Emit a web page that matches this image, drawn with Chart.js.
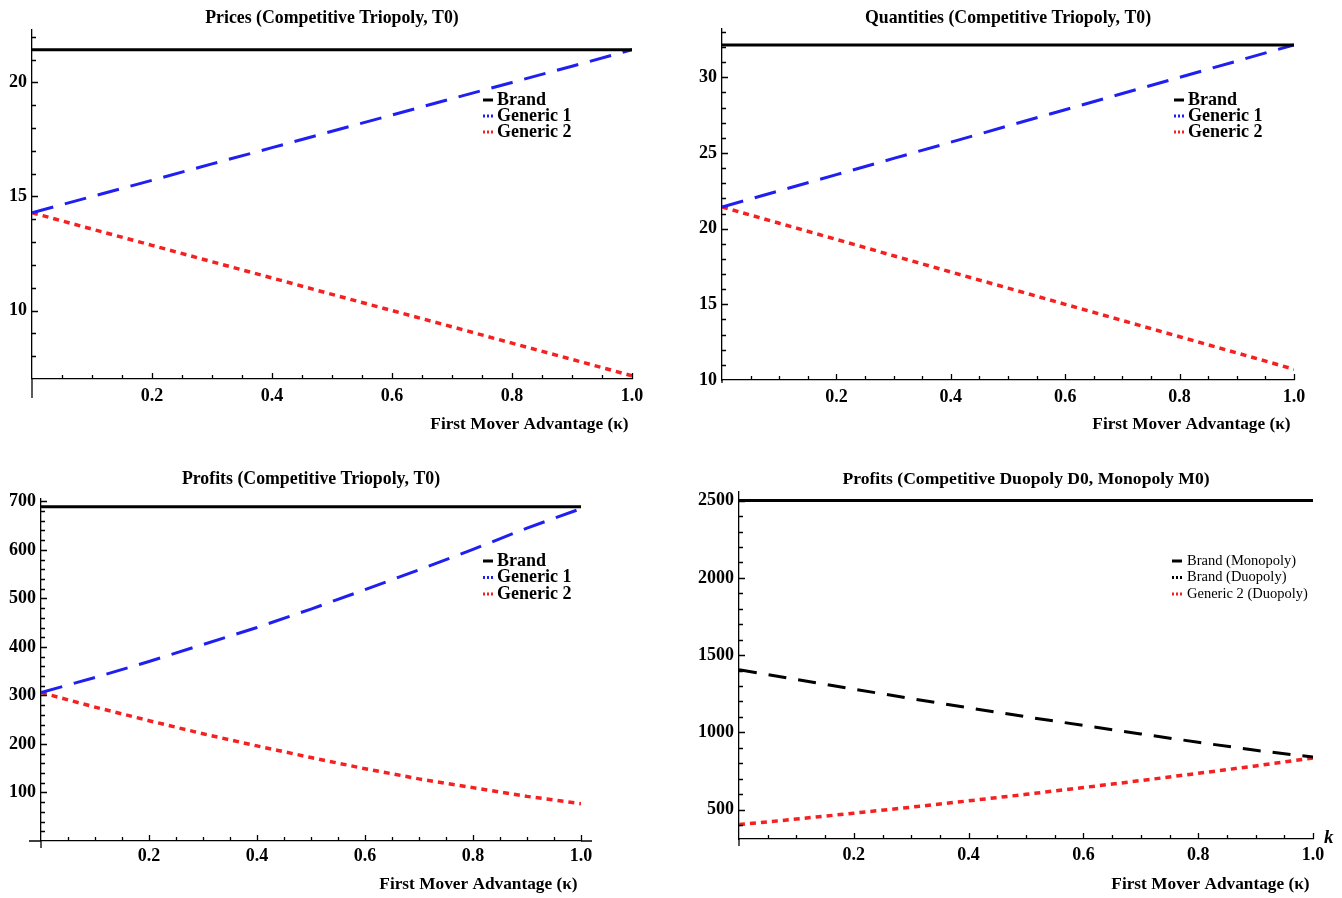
<!DOCTYPE html>
<html><head><meta charset="utf-8">
<script src="https://cdn.jsdelivr.net/npm/chart.js@4.4.0/dist/chart.umd.min.js"></script>
<style>
html,body{margin:0;padding:0;background:#fff;}
#wrap{position:relative;width:1342px;height:898px;background:#fff;}
canvas{position:absolute;}
</style></head><body>
<div id="wrap">
<canvas id="c1" width="671" height="449" style="left:0;top:0"></canvas>
<canvas id="c2" width="671" height="449" style="left:671px;top:0"></canvas>
<canvas id="c3" width="671" height="449" style="left:0;top:449px"></canvas>
<canvas id="c4" width="671" height="449" style="left:671px;top:449px"></canvas>
</div>
<script>
// ---- data ----
const kValues = [0, 0.1, 0.2, 0.3, 0.4, 0.5, 0.6, 0.7, 0.8, 0.9, 1.0];
const xTickValues = [0.2, 0.4, 0.6, 0.8, 1.0];

const priceBrand    = [21.43, 21.43, 21.43, 21.43, 21.43, 21.43, 21.43, 21.43, 21.43, 21.43, 21.43];
const priceGeneric1 = [14.29, 15.00, 15.71, 16.43, 17.14, 17.86, 18.57, 19.29, 20.00, 20.71, 21.43];
const priceGeneric2 = [14.29, 13.57, 12.86, 12.14, 11.43, 10.71, 10.00, 9.29, 8.57, 7.86, 7.14];
const priceYTicks = [10, 15, 20];

const qtyBrand    = [32.14, 32.14, 32.14, 32.14, 32.14, 32.14, 32.14, 32.14, 32.14, 32.14, 32.14];
const qtyGeneric1 = [21.43, 22.50, 23.57, 24.64, 25.71, 26.79, 27.86, 28.93, 30.00, 31.07, 32.14];
const qtyGeneric2 = [21.43, 20.36, 19.29, 18.21, 17.14, 16.07, 15.00, 13.93, 12.86, 11.79, 10.71];
const qtyYTicks = [10, 15, 20, 25, 30];

const profitBrand    = [689, 689, 689, 689, 689, 689, 689, 689, 689, 689, 689];
const profitGeneric1 = [306, 337, 370, 405, 440, 478, 518, 559, 601, 645, 685];
const profitGeneric2 = [306, 276, 248, 221, 196, 172, 149, 128, 110, 92, 77];
const profitYTicks = [100, 200, 300, 400, 500, 600, 700];

const monoBrand   = [2500, 2500, 2500, 2500, 2500, 2500, 2500, 2500, 2500, 2500, 2500];
const duoBrand    = [1406, 1342, 1280, 1219, 1159, 1101, 1045, 990, 936, 884, 840];
const duoGeneric2 = [403, 439, 477, 516, 557, 599, 643, 688, 735, 783, 834];
const duoYTicks = [500, 1000, 1500, 2000, 2500];

const titles = [
  'Prices (Competitive Triopoly, T0)',
  'Quantities (Competitive Triopoly, T0)',
  'Profits (Competitive Triopoly, T0)',
  'Profits (Competitive Duopoly D0, Monopoly M0)'
];
const xAxisTitle = 'First Mover Advantage (\u03BA)\u202F';
const triLabels = ['Brand', 'Generic 1', 'Generic 2'];
const duoLabels = ['Brand (Monopoly)', 'Brand (Duopoly)', 'Generic 2 (Duopoly)'];

// ---- styles ----
const SERIF = '"Liberation Serif", "Times New Roman", serif';
const BLACK = '#000000', BLUE = '#1f1ff2', RED = '#f52020';

function ds(label, values, color, dash, width, legendDash) {
  return {
    label, data: kValues.map((k, i) => ({x: k, y: values[i]})),
    borderColor: color, backgroundColor: color, borderWidth: width,
    borderDash: dash, pointRadius: 0, fill: false, tension: 0,
    legendDash: legendDash, borderCapStyle: 'butt'
  };
}

const mathAxes = {
  id: 'mathAxes',
  afterDatasetsDraw(chart, args, o) {
    const ctx = chart.ctx, ca = chart.chartArea;
    const xs = chart.scales.x, ys = chart.scales.y;
    ctx.save();
    ctx.strokeStyle = '#000'; ctx.lineWidth = 1.3;
    ctx.beginPath();
    if (o.yExtBelow) { ctx.moveTo(ca.left, ca.bottom); ctx.lineTo(ca.left, ca.bottom + o.yExtBelow); }
    if (o.xExtLeft) { ctx.moveTo(ca.left - o.xExtLeft, ca.bottom); ctx.lineTo(ca.left, ca.bottom); }
    if (o.xExtRight) { ctx.moveTo(ca.right, ca.bottom); ctx.lineTo(ca.right + o.xExtRight, ca.bottom); }
    ctx.stroke();
    ctx.beginPath();
    const xMaj = xs.ticks.map(t => t.value);
    for (let v = o.xMinor; v <= xs.max + 1e-9; v += o.xMinor) {
      const isMaj = xMaj.some(m => Math.abs(m - v) < 1e-6);
      const px = Math.round(xs.getPixelForValue(v)) + 0.5;
      ctx.moveTo(px, ca.bottom); ctx.lineTo(px, ca.bottom - (isMaj ? 6 : 4));
    }
    const yMaj = ys.ticks.map(t => t.value);
    const start = Math.ceil(ys.min / o.yMinor) * o.yMinor;
    for (let v = start; v <= ys.max + 1e-9; v += o.yMinor) {
      if (Math.abs(v - ys.min) < 1e-6) continue;
      const isMaj = yMaj.some(m => Math.abs(m - v) < 1e-6);
      const py = Math.round(ys.getPixelForValue(v)) + 0.5;
      ctx.moveTo(ca.left, py); ctx.lineTo(ca.left + (isMaj ? 6 : 4), py);
    }
    ctx.stroke();
    const L = o.legend;
    ctx.textAlign = 'left'; ctx.textBaseline = 'middle';
    ctx.font = L.font;
    chart.data.datasets.forEach((d, i) => {
      const y = L.y + i * L.dy;
      ctx.beginPath();
      ctx.strokeStyle = d.borderColor; ctx.lineWidth = 3;
      ctx.setLineDash(d.legendDash);
      ctx.moveTo(L.x, y); ctx.lineTo(L.x + L.len, y); ctx.stroke();
      ctx.setLineDash([]);
      ctx.fillStyle = '#000';
      ctx.fillText(d.label, L.x + L.len + L.gap, y);
    });
    if (o.kLabel) {
      ctx.font = 'italic bold 19px ' + SERIF;
      ctx.fillStyle = '#000';
      ctx.textAlign = 'left'; ctx.textBaseline = 'middle';
      ctx.fillText(o.kLabel, ca.right + 11, ca.bottom - 1);
    }
    ctx.restore();
  }
};

function makeChart(id, p) {
  const tickFont = {family: SERIF, size: 18, weight: 'bold'};
  return new Chart(document.getElementById(id), {
    type: 'line',
    data: {datasets: p.datasets},
    plugins: [mathAxes],
    options: {
      responsive: false, animation: false, devicePixelRatio: 1,
      layout: {padding: {left: 0, right: p.padRight, top: 0, bottom: 0}},
      plugins: {
        legend: {display: false}, tooltip: {enabled: false},
        title: {display: true, text: p.title, color: '#000', fullSize: false,
          font: {family: SERIF, size: p.titleSize, weight: 'bold', lineHeight: 1.2},
          padding: {top: p.titleTop, bottom: p.titleBottom}},
        mathAxes: p.axes
      },
      scales: {
        x: {
          type: 'linear', min: 0, max: 1,
          afterFit: s => { s.height = p.xHeight; },
          afterBuildTicks: s => { s.ticks = xTickValues.map(v => ({value: v})); },
          ticks: {callback: v => Number(v).toFixed(1), font: tickFont, color: '#000',
            padding: p.xTickPad, maxRotation: 0, autoSkip: false},
          grid: {display: true, drawOnChartArea: false, drawTicks: false},
          border: {display: true, color: '#000', width: 1.3},
          title: {display: true, text: xAxisTitle, align: 'end', color: '#000',
            font: {family: SERIF, size: 17.3, weight: 'bold', lineHeight: 1.2},
            padding: {top: 0, bottom: p.xTitlePad}}
        },
        y: {
          type: 'linear', min: p.yMin, max: p.yMax,
          afterFit: s => { s.width = p.yWidth; },
          afterBuildTicks: s => { s.ticks = p.yTicks.map(v => ({value: v})); },
          ticks: {font: tickFont, color: '#000', padding: 5, autoSkip: false,
            callback: v => String(v)},
          grid: {display: true, drawOnChartArea: false, drawTicks: false},
          border: {display: true, color: '#000', width: 1.3}
        }
      }
    }
  });
}

const legendBold = 'bold 18px ' + SERIF;

makeChart('c1', {
  title: titles[0], titleSize: 17.8,
  datasets: [
    ds(triLabels[0], priceBrand, BLACK, [], 3, []),
    ds(triLabels[1], priceGeneric1, BLUE, [22, 12], 3, [2, 2]),
    ds(triLabels[2], priceGeneric2, RED, [6, 5], 3.5, [2, 2])
  ],
  yMin: 7, yMax: 22.3, yTicks: priceYTicks, yWidth: 32, padRight: 39,
  titleTop: 8, titleBottom: 0.6, xHeight: 70, xTickPad: 6.5, xTitlePad: 14,
  axes: {xMinor: 0.05, yMinor: 1, yExtBelow: 19,
    legend: {x: 483, y: 100, dy: 16, len: 10, gap: 4, font: legendBold}}
});

makeChart('c2', {
  title: titles[1], titleSize: 17.8,
  datasets: [
    ds(triLabels[0], qtyBrand, BLACK, [], 3, []),
    ds(triLabels[1], qtyGeneric1, BLUE, [22, 12], 3, [2, 2]),
    ds(triLabels[2], qtyGeneric2, RED, [6, 5], 3.5, [2, 2])
  ],
  yMin: 10, yMax: 33.2, yTicks: qtyYTicks, yWidth: 51, padRight: 48,
  titleTop: 7.5, titleBottom: 0, xHeight: 69, xTickPad: 6.5, xTitlePad: 14,
  axes: {xMinor: 0.05, yMinor: 1, yExtBelow: 3,
    legend: {x: 503, y: 100, dy: 16, len: 10, gap: 4, font: legendBold}}
});

makeChart('c3', {
  title: titles[2], titleSize: 17.8,
  datasets: [
    ds(triLabels[0], profitBrand, BLACK, [], 3, []),
    ds(triLabels[1], profitGeneric1, BLUE, [22, 12], 3, [2, 2]),
    ds(triLabels[2], profitGeneric2, RED, [6, 5], 3.5, [2, 2])
  ],
  yMin: 0, yMax: 705, yTicks: profitYTicks, yWidth: 41, padRight: 90,
  titleTop: 20, titleBottom: 8.6, xHeight: 57, xTickPad: 5, xTitlePad: 3,
  axes: {xMinor: 0.05, yMinor: 20, yExtBelow: 7, xExtLeft: 12, xExtRight: 11,
    legend: {x: 483, y: 112, dy: 16.5, len: 10, gap: 4, font: legendBold}}
});

makeChart('c4', {
  title: titles[3], titleSize: 17.6,
  datasets: [
    ds(duoLabels[0], monoBrand, BLACK, [], 3, []),
    ds(duoLabels[1], duoBrand, BLACK, [18, 12], 3, [2, 2]),
    ds(duoLabels[2], duoGeneric2, RED, [6, 5], 3.5, [2, 2])
  ],
  yMin: 310, yMax: 2555, yTicks: duoYTicks, yWidth: 68, padRight: 29,
  titleTop: 20, titleBottom: 2, xHeight: 59, xTickPad: 6, xTitlePad: 3,
  axes: {xMinor: 0.05, yMinor: 100, yExtBelow: 7, kLabel: 'k',
    legend: {x: 501, y: 112, dy: 16.5, len: 10, gap: 5, font: '14.5px ' + SERIF}}
});
</script>
</body></html>
